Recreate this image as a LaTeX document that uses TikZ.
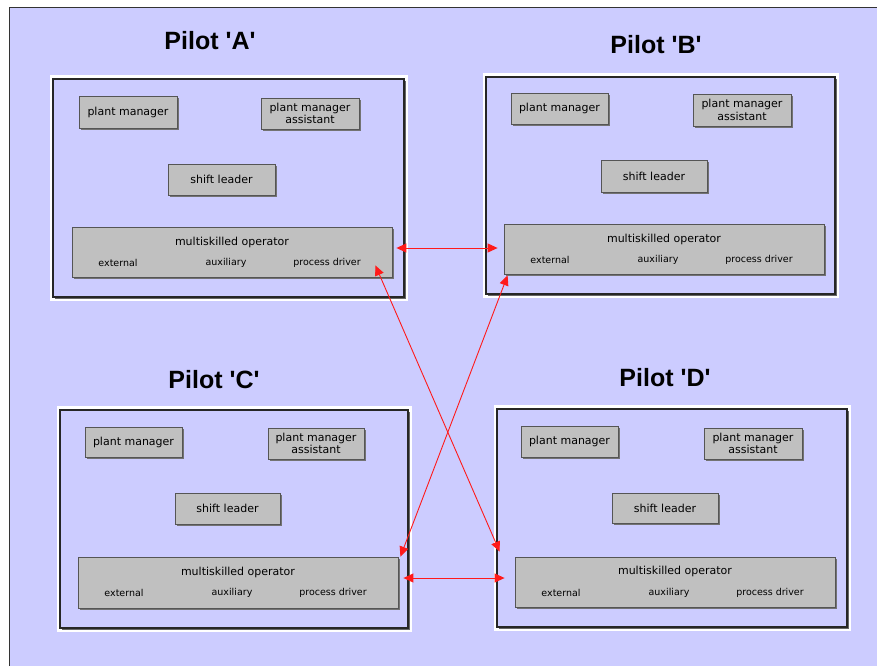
\documentclass[tikz,border=0pt]{standalone}
\usepackage{fontspec}
\usepackage{xcolor}
\usepackage{tikz}
\usetikzlibrary{arrows.meta,shadows,calc}
\newfontfamily\titlefont{Liberation Sans}
\newfontfamily\boxfont{DejaVu Sans}
\definecolor{lavbg}{HTML}{CCCCFF}
\definecolor{boxgrey}{HTML}{C0C0C0}
\definecolor{boxedge}{HTML}{555555}
\definecolor{linkred}{HTML}{FF1A1A}

\begin{document}
\begin{tikzpicture}[x=1pt,y=1pt,yscale=-1,xscale=1,
  pilot/.style={font=\titlefont\bfseries\fontsize{25}{28}\selectfont, inner sep=0},
  role/.style={draw=boxedge, fill=boxgrey, line width=0.8pt, inner sep=0, align=center,
    font=\boxfont\fontsize{11}{12.5}\selectfont,
    drop shadow={shadow xshift=2pt, shadow yshift=-2pt, opacity=1, fill=black!55}},
  roletext/.style={inner sep=0, font=\boxfont\fontsize{11}{12.5}\selectfont},
  sublbl/.style={inner sep=0, font=\boxfont\fontsize{9.5}{11}\selectfont},
  link/.style={draw=linkred, line width=0.9pt, arrows={Triangle[length=10pt,width=9pt]-Triangle[length=10pt,width=9pt]}}
]
\useasboundingbox (0,0) rectangle (877,666);

%Background
\fill[white] (0,0) rectangle (877,666);
\fill[lavbg] (9,7) rectangle (877,666);
\draw[black!80, line width=1.5] (9.5,666) -- (9.5,7.5) -- (877,7.5);

%Shape: Rectangle [Pilot A]
\fill[white] (50,75) rectangle (408,301);
\fill[black!60] (55,81) rectangle (406,299);
\draw[black!85, line width=1.2, fill=lavbg] (53,79) rectangle (404,297);
%Shape: Rectangle [Pilot B]
\fill[white] (483,73) rectangle (839,298);
\fill[black!60] (488,79) rectangle (837,296);
\draw[black!85, line width=1.2, fill=lavbg] (486,77) rectangle (835,294);
%Shape: Rectangle [Pilot C]
\fill[white] (57,406) rectangle (412,632);
\fill[black!60] (62,412) rectangle (410,630);
\draw[black!85, line width=1.2, fill=lavbg] (60,410) rectangle (408,628);
%Shape: Rectangle [Pilot D]
\fill[white] (494,405) rectangle (851,631);
\fill[black!60] (499,411) rectangle (849,629);
\draw[black!85, line width=1.2, fill=lavbg] (497,409) rectangle (847,627);

% Titles
\node[pilot] (titleA) at (210,41) {Pilot 'A'};
\node[pilot] (titleB) at (656,45) {Pilot 'B'};
\node[pilot] (titleC) at (214,380) {Pilot 'C'};
\node[pilot] (titleD) at (665,378) {Pilot 'D'};

% Pilot A
\node[role, minimum width=98, minimum height=32] (pmA) at (128,112) {plant manager};
\node[role, minimum width=98, minimum height=31] (pmaA) at (310,113.5) {plant manager\\assistant};
\node[role, minimum width=107, minimum height=31] (slA) at (221.5,179.5) {shift leader};
\node[role, minimum width=320, minimum height=50] (moA) at (232,252) {};
\node[roletext] (moAt) at (232,242) {multiskilled operator};
\node[sublbl] (extA) at (118,263) {external};
\node[sublbl] (auxA) at (226,263) {auxiliary};
\node[sublbl] (pdA) at (327,263) {process driver};

% Pilot B
\node[role, minimum width=97, minimum height=31] (pmB) at (559.5,108.5) {plant manager};
\node[role, minimum width=98, minimum height=32] (pmaB) at (742,110) {plant manager\\assistant};
\node[role, minimum width=106, minimum height=32] (slB) at (654,176) {shift leader};
\node[role, minimum width=320, minimum height=50] (moB) at (664,249) {};
\node[roletext] (moBt) at (664,239) {multiskilled operator};
\node[sublbl] (extB) at (550,260) {external};
\node[sublbl] (auxB) at (658,260) {auxiliary};
\node[sublbl] (pdB) at (759,260) {process driver};

% Pilot C
\node[role, minimum width=97, minimum height=30] (pmC) at (133.5,442) {plant manager};
\node[role, minimum width=96, minimum height=31] (pmaC) at (316,443.5) {plant manager\\assistant};
\node[role, minimum width=105, minimum height=31] (slC) at (227.5,508.5) {shift leader};
\node[role, minimum width=320, minimum height=51] (moC) at (238,582.5) {};
\node[roletext] (moCt) at (238,572) {multiskilled operator};
\node[sublbl] (extC) at (124,593) {external};
\node[sublbl] (auxC) at (232,593) {auxiliary};
\node[sublbl] (pdC) at (333,593) {process driver};

% Pilot D
\node[role, minimum width=97, minimum height=31] (pmD) at (569.5,441.5) {plant manager};
\node[role, minimum width=98, minimum height=31] (pmaD) at (753,443.5) {plant manager\\assistant};
\node[role, minimum width=106, minimum height=30] (slD) at (665,508) {shift leader};
\node[role, minimum width=320, minimum height=50] (moD) at (675,582) {};
\node[roletext] (moDt) at (675,571) {multiskilled operator};
\node[sublbl] (extD) at (561,593) {external};
\node[sublbl] (auxD) at (669,593) {auxiliary};
\node[sublbl] (pdD) at (770,593) {process driver};

% Links
\draw[link] ($(moA.east)+(4,-4)$) -- ($(moB.west)+(-6,-1)$);
\draw[link] ($(moC.east)+(5,-4.5)$) -- ($(moD.west)+(-10,-4)$);
\draw[link] ($(moA.south east)+(-17,-12)$) -- ($(moD.north west)+(-15,-5)$);
\draw[link] ($(moB.south west)+(4,1)$) -- ($(moC.north east)+(2,0)$);

\end{tikzpicture}
\end{document}
